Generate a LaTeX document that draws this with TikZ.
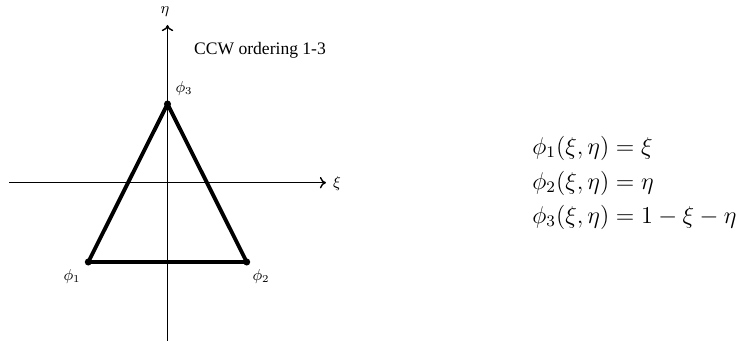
\documentclass[tikz,border=0pt]{standalone}
\usepackage{fontspec}
\setmainfont{Liberation Serif}
\usepackage{tikz}
\usetikzlibrary{arrows.meta}

\begin{document}
\begin{tikzpicture}[x=0.02cm, y=0.02cm,
  axis/.style={line width=0.8pt, -{To[length=3.5pt, width=6.5pt]}},
  edge/.style={line width=2.2pt, line join=round},
  vtx/.style={circle, fill, inner sep=0pt, minimum size=4pt},
  shapefn/.style={font=\fontsize{12}{14}\selectfont, scale=1.15, transform shape, anchor=west, inner sep=0pt}]
\useasboundingbox (0,0) rectangle (741,341);
% axes
\coordinate (xl) at (9,158.3);
\coordinate (xr) at (326,158.3);
\coordinate (yb) at (167.5,0);
\coordinate (yt) at (167.5,316);
\draw[axis] (xl) -- (xr);
\draw[axis] (yb) -- (yt);
\node[font=\small] (xi) at (337,157) {$\xi$};
\node[font=\small] (eta) at (165,329) {$\eta$};
% element
\node[vtx] (p1) at (88.3,79) {};
\node[vtx] (p2) at (246.7,79) {};
\node[vtx] (p3) at (167.5,237) {};
\draw[edge] (p1.center) -- (p2.center) -- (p3.center) -- cycle;
\node[font=\small] (l1) at (72,64) {$\phi_1$};
\node[font=\small] (l2) at (261,64) {$\phi_2$};
\node[font=\small] (l3) at (184,252) {$\phi_3$};
\node[font=\normalsize] (ccw) at (260,291) {CCW ordering 1-3};
% shape functions
\node[shapefn] (f1) at (532,193) {$\phi_1(\xi,\eta) = \xi$};
\node[shapefn] (f2) at (532,158) {$\phi_2(\xi,\eta) = \eta$};
\node[shapefn] (f3) at (532,124) {$\phi_3(\xi,\eta) = 1 - \xi - \eta$};
\end{tikzpicture}
\end{document}
